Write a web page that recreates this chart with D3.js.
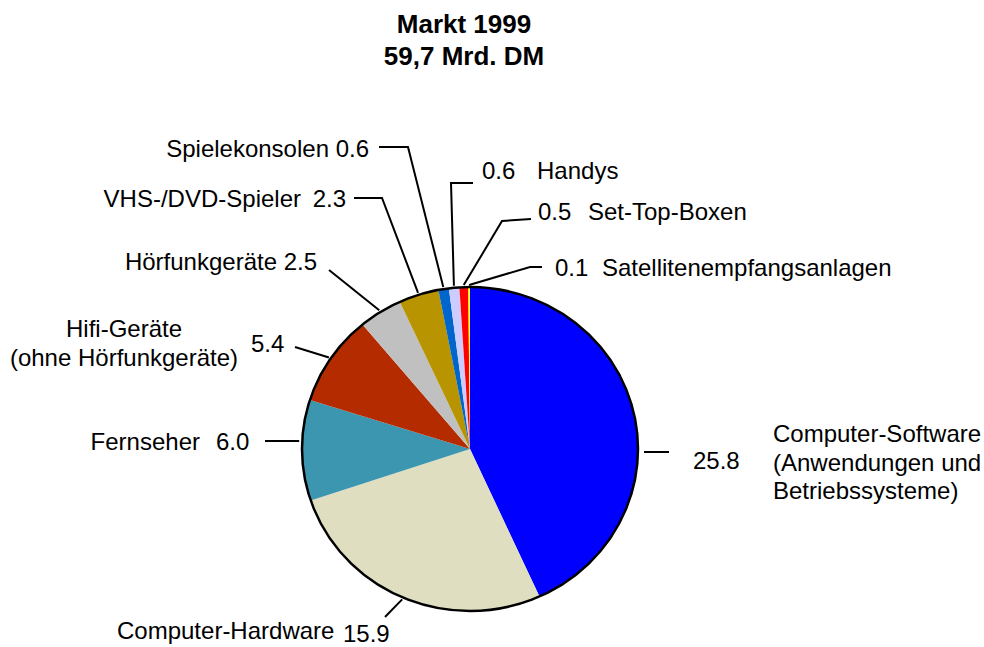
<!DOCTYPE html>
<html>
<head>
<meta charset="utf-8">
<script src="https://cdn.jsdelivr.net/npm/d3@7"></script>
<style>
  body { margin: 0; background: #fff; }
  text { font-family: "Liberation Sans", Arial, sans-serif; fill: #000; }
</style>
</head>
<body>
<div id="chart"></div>
<script>
var width = 984,
    height = 647;

// market 1999, Mrd. DM, clockwise from 12 o'clock
var names = ["Computer-Software", "Computer-Hardware", "Fernseher", "Hifi-Geräte", "Hörfunkgeräte",
             "VHS-/DVD-Spieler", "Spielekonsolen", "Handys", "Set-Top-Boxen", "Satellitenempfangsanlagen"];
var values = [25.8, 15.9, 6.0, 5.4, 2.5, 2.3, 0.6, 0.6, 0.5, 0.1];
var colors = ["#0000ff", "#e0dec0", "#3d96b0", "#b52b00", "#c0c0c0",
              "#b89400", "#0066cc", "#ccccff", "#ff0000", "#ffff00"];
var titleLines = ["Markt 1999", "59,7 Mrd. DM"];

// label layout: name lines, value text, leader elbow points (outer end first)
var labelLayout = [
  { name: ["Computer-Software", "(Anwendungen und", "Betriebssysteme)"], nx: 773, ny: 442, na: "start",
    vx: 693, vy: 469, va: "start", leader: [[669, 452]], horiz: true },
  { name: ["Computer-Hardware"], nx: 117, ny: 639, na: "start",
    vx: 343, vy: 642, va: "start", leader: [[385, 617]] },
  { name: ["Fernseher"], nx: 200, ny: 450, na: "end",
    vx: 216, vy: 450, va: "start", leader: [[265, 441]], horiz: true },
  { name: ["Hifi-Geräte", "(ohne Hörfunkgeräte)"], nx: 124, ny: 337, na: "middle",
    vx: 251, vy: 352, va: "start", leader: [[295, 347]] },
  { name: ["Hörfunkgeräte"], nx: 277, ny: 270, na: "end",
    vx: 317, vy: 270, va: "end", leader: [[329, 270]] },
  { name: ["VHS-/DVD-Spieler"], nx: 301, ny: 207, na: "end",
    vx: 346, vy: 207, va: "end", leader: [[354, 198], [382, 198]] },
  { name: ["Spielekonsolen"], nx: 329, ny: 157, na: "end",
    vx: 369, vy: 157, va: "end", leader: [[379, 147], [408, 147]] },
  { name: ["Handys"], nx: 537, ny: 179, na: "start",
    vx: 482, vy: 179, va: "start", leader: [[473, 183], [451, 183]] },
  { name: ["Set-Top-Boxen"], nx: 588, ny: 220, na: "start",
    vx: 538, vy: 220, va: "start", leader: [[531, 219], [502, 221]] },
  { name: ["Satellitenempfangsanlagen"], nx: 602, ny: 276, na: "start",
    vx: 555, vy: 276, va: "start", leader: [[542, 267], [530, 267]] }
];

var cx = 470, cy = 449, rx = 168, ry = 162;
var fmt = d3.format(".1f");

var svg = d3.select("#chart").append("svg")
  .attr("width", width)
  .attr("height", height);

svg.selectAll("text.title")
  .data(titleLines)
  .enter().append("text")
  .attr("class", "title")
  .attr("x", 464)
  .attr("y", function(d, i) { return 33 + i * 32; })
  .attr("text-anchor", "middle")
  .style("font-size", "26px")
  .style("font-weight", "bold")
  .text(function(d) { return d; });

var pie = d3.pie().sort(null).value(function(d) { return d; });
var arcs = pie(values);

var arc = d3.arc().innerRadius(0).outerRadius(ry);

// slices drawn on a circle then stretched a little horizontally
var pieG = svg.append("g")
  .attr("transform", "translate(" + cx + "," + cy + ") scale(" + (rx / ry) + ",1)");

pieG.selectAll("path")
  .data(arcs)
  .enter().append("path")
  .attr("d", arc)
  .attr("fill", function(d, i) { return colors[i]; });

svg.append("ellipse")
  .attr("cx", cx).attr("cy", cy)
  .attr("rx", rx).attr("ry", ry)
  .attr("fill", "none")
  .attr("stroke", "#000")
  .attr("stroke-width", 2.5);

// point just outside the pie edge at the slice mid angle
function edgePoint(d, gap) {
  var a = (d.startAngle + d.endAngle) / 2;
  return [cx + Math.sin(a) * (rx + gap), cy - Math.cos(a) * (ry + gap)];
}
// point on edge at a given y, left or right side
function edgeAtY(y, side, gap) {
  var t = (y - cy) / ry;
  return [cx + side * (rx * Math.sqrt(1 - t * t) + gap), y];
}

var line = d3.line();

svg.selectAll("path.leader")
  .data(arcs)
  .enter().append("path")
  .attr("class", "leader")
  .attr("fill", "none")
  .attr("stroke", "#000")
  .attr("stroke-width", 2)
  .attr("d", function(d, i) {
    var L = labelLayout[i];
    var pts = L.leader.slice();
    if (L.horiz) {
      var p = pts[pts.length - 1];
      pts.push(edgeAtY(p[1], p[0] > cx ? 1 : -1, p[0] > cx ? 6 : 3));
    } else {
      pts.push(edgePoint(d, 2));
    }
    return line(pts);
  });

var labels = svg.selectAll("g.label")
  .data(arcs)
  .enter().append("g")
  .attr("class", "label")
  .style("font-size", "24px");

labels.each(function(d, i) {
  var L = labelLayout[i];
  var g = d3.select(this);
  var name = g.append("text")
    .attr("text-anchor", L.na);
  L.name.forEach(function(s, k) {
    name.append("tspan")
      .attr("x", L.nx)
      .attr("y", L.ny + k * 28.5)
      .text(s);
  });
  g.append("text")
    .attr("x", L.vx)
    .attr("y", L.vy)
    .attr("text-anchor", L.va)
    .text(fmt(d.data));
});
</script>
</body>
</html>
